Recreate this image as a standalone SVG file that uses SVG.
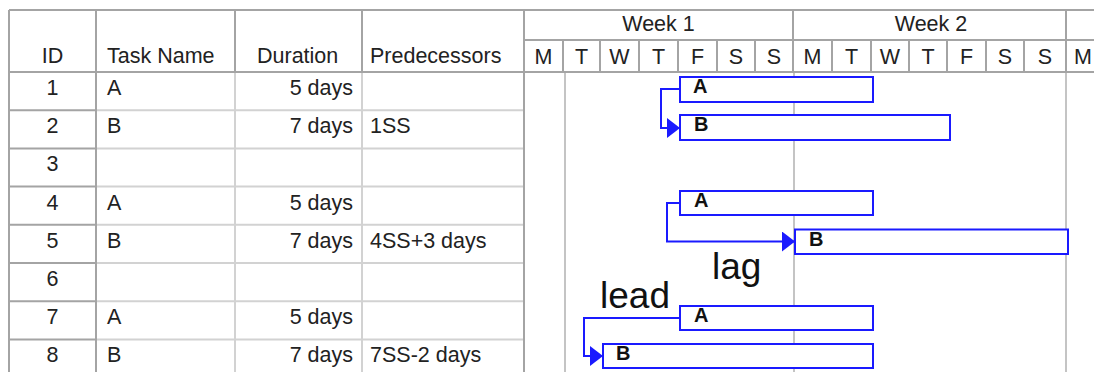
<svg xmlns="http://www.w3.org/2000/svg" width="1094" height="372" viewBox="0 0 1094 372">
<style>
.t{font-family:"Liberation Sans",Arial,sans-serif;font-size:21.5px;fill:#222}
.c{text-anchor:middle}
.r{text-anchor:end}
.bl{font-family:"Liberation Sans",Arial,sans-serif;font-size:20px;font-weight:bold;fill:#111}
.big{font-family:"Liberation Sans",Arial,sans-serif;font-size:37px;fill:#111}
.dk{stroke:#a4a4a4;stroke-width:2;fill:none}
.lt{stroke:#d2d2d2;stroke-width:2;fill:none}
.bg{stroke:#c4c4c4;stroke-width:2;fill:none}
.bar{fill:#fff;stroke:#1a1aff;stroke-width:2}
.con{fill:none;stroke:#1a1aff;stroke-width:2}
</style>
<defs>
<marker id="ah" markerUnits="userSpaceOnUse" markerWidth="14" markerHeight="21" refX="13" refY="10" orient="auto">
<path d="M0,0 L13,10 L0,20 Z" fill="#1a1aff"/>
</marker>
</defs>
<rect width="1094" height="372" fill="#fff"/>
<g id="grid">
<path class="lt" d="M96,110.2H524M96,148.4H524M96,186.6H524M96,224.8H524M96,263H524M96,301.2H524M96,339.4H524"/>
<path class="dk" d="M9,110.2H96M9,148.4H96M9,186.6H96M9,224.8H96M9,263H96M9,301.2H96M9,339.4H96"/>
<path class="lt" d="M235,72V372M362,72V372"/>
<path class="bg" d="M565,72V372M794,72V372M1066,72V372"/>
<path class="dk" d="M9,10H1094M9,10V372M9,72H1094M96,10V372M235,10V72M362,10V72M524,10V372M524,40H1094M793,10V72M1066,10V72"/>
<path class="dk" d="M563,40V72M600,40V72M639,40V72M678,40V72M717,40V72M755,40V72M832,40V72M871,40V72M909,40V72M947,40V72M986,40V72M1024,40V72"/>
</g>
<g id="header">
<text class="t c" x="52.5" y="63">ID</text>
<text class="t" x="107" y="63">Task Name</text>
<text class="t" x="257" y="63">Duration</text>
<text class="t" x="370" y="63">Predecessors</text>
<text class="t c" x="658.5" y="31">Week 1</text>
<text class="t c" x="931" y="31">Week 2</text>
<text class="t c" x="543.5" y="64">M</text>
<text class="t c" x="581.5" y="64">T</text>
<text class="t c" x="619.5" y="64">W</text>
<text class="t c" x="658.5" y="64">T</text>
<text class="t c" x="697.5" y="64">F</text>
<text class="t c" x="736" y="64">S</text>
<text class="t c" x="774" y="64">S</text>
<text class="t c" x="812.5" y="64">M</text>
<text class="t c" x="851.5" y="64">T</text>
<text class="t c" x="890" y="64">W</text>
<text class="t c" x="928" y="64">T</text>
<text class="t c" x="966.5" y="64">F</text>
<text class="t c" x="1005" y="64">S</text>
<text class="t c" x="1045" y="64">S</text>
<text class="t c" x="1083" y="64">M</text>
</g>
<g id="rows">
<text class="t c" x="52.5" y="95">1</text>
<text class="t" x="107" y="95">A</text>
<text class="t r" x="353" y="95">5 days</text>
<text class="t c" x="52.5" y="133.2">2</text>
<text class="t" x="107" y="133.2">B</text>
<text class="t r" x="353" y="133.2">7 days</text>
<text class="t" x="370" y="133.2">1SS</text>
<text class="t c" x="52.5" y="171.4">3</text>
<text class="t c" x="52.5" y="209.6">4</text>
<text class="t" x="107" y="209.6">A</text>
<text class="t r" x="353" y="209.6">5 days</text>
<text class="t c" x="52.5" y="247.8">5</text>
<text class="t" x="107" y="247.8">B</text>
<text class="t r" x="353" y="247.8">7 days</text>
<text class="t" x="370" y="247.8">4SS+3 days</text>
<text class="t c" x="52.5" y="286">6</text>
<text class="t c" x="52.5" y="324.2">7</text>
<text class="t" x="107" y="324.2">A</text>
<text class="t r" x="353" y="324.2">5 days</text>
<text class="t c" x="52.5" y="362.4">8</text>
<text class="t" x="107" y="362.4">B</text>
<text class="t r" x="353" y="362.4">7 days</text>
<text class="t" x="370" y="362.4">7SS-2 days</text>
</g>
<g id="connectors">
<path class="con" d="M680,89H661V128H680" marker-end="url(#ah)"/>
<path class="con" d="M680,203H667V241.5H795" marker-end="url(#ah)"/>
<path class="con" d="M680,318H584V356H603" marker-end="url(#ah)"/>
</g>
<g id="bar1"><rect class="bar" x="680" y="77" width="193" height="25"/><text class="bl" x="693" y="93">A</text></g>
<g id="bar2"><rect class="bar" x="680" y="115" width="270" height="25"/><text class="bl" x="694" y="131">B</text></g>
<g id="bar4"><rect class="bar" x="680" y="191" width="193" height="24"/><text class="bl" x="694" y="207">A</text></g>
<g id="bar5"><rect class="bar" x="795" y="229.5" width="273" height="24.5"/><text class="bl" x="809" y="245.5">B</text></g>
<g id="bar7"><rect class="bar" x="680" y="306" width="193" height="24"/><text class="bl" x="694" y="322">A</text></g>
<g id="bar8"><rect class="bar" x="603" y="344" width="270" height="24"/><text class="bl" x="616" y="360">B</text></g>
<g id="labels">
<text class="big" x="712" y="279">lag</text>
<text class="big" x="600" y="308">lead</text>
</g>
</svg>
